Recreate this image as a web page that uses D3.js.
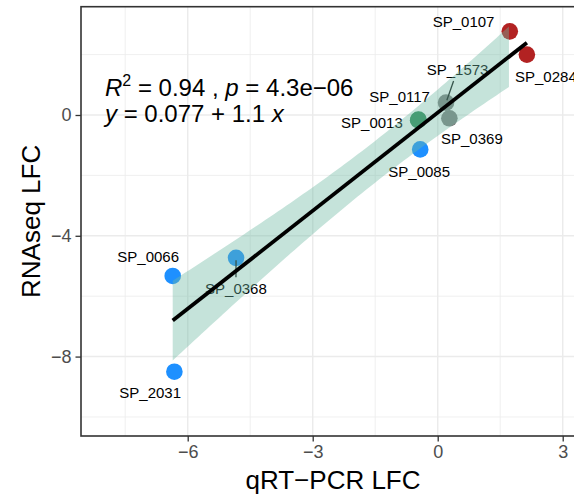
<!DOCTYPE html>
<html>
<head>
<meta charset="utf-8">
<script src="https://cdn.jsdelivr.net/npm/d3@7"></script>
<style>
  body { margin: 0; background: #fff; }
  svg { display: block; }
  text { font-family: "Liberation Sans", Arial, Helvetica, sans-serif; }
</style>
</head>
<body>
<svg id="chart" width="574" height="497"></svg>
<script>
// ---- data -------------------------------------------------------------
const genes     = ["SP_0107", "SP_0284", "SP_1573", "SP_0117", "SP_0013", "SP_0369", "SP_0085", "SP_0066", "SP_0368", "SP_2031"];
const qpcrLFC   = [1.73, 2.14, 0.20, -0.46, -0.47, 0.28, -0.42, -6.36, -4.84, -6.32];
const rnaseqLFC = [2.77, 2.00, 0.41, -0.15, -0.17, -0.11, -1.14, -5.33, -4.73, -8.50];
const geneGroup = ["up", "up", "ns", "mid", "mid", "ns", "down", "down", "down", "down"];
const groupColor = { up: "#B22222", ns: "#7f7f7f", mid: "#2E8B57", down: "#1E90FF" };

// label anchors (text start, baseline) in data units, and which labels get a leader
const labelX = [-0.12, 1.855, -0.264, -1.641, -2.32, 0.079, -1.186, -7.689, -5.584, -7.641];
const labelY = [2.92, 1.10, 1.325, 0.44, -0.44, -0.96, -2.043, -4.877, -5.937, -9.361];
const leaderGenes = ["SP_1573", "SP_0368"];

// axes
const xTicks = [-6, -3, 0, 3];
const yTicks = [-8, -4, 0];
const xMinor = [-7.5, -4.5, -1.5, 1.5];
const yMinor = [-10, -6, -2, 2];
const xLimits = [-8.561, 3.535];
const yLimits = [-10.63, 3.586];
const xTitle = "qRT\u2212PCR LFC";
const yTitle = "RNAseq LFC";

// confidence band extent along x and its t quantile (97.5%, 8 d.f.)
const bandExtent = [-6.36, 1.71];
const tCrit = 2.306;

// ---- layout ------------------------------------------------------------
const panel = { left: 81, top: 6.7, right: 585, bottom: 436 };
const svg = d3.select("#chart");
const x = d3.scaleLinear().domain(xLimits).range([panel.left, panel.right]);
const y = d3.scaleLinear().domain(yLimits).range([panel.bottom, panel.top]);

svg.append("defs").append("clipPath").attr("id", "panel-clip")
  .append("rect")
  .attr("x", panel.left).attr("y", panel.top)
  .attr("width", panel.right - panel.left).attr("height", panel.bottom - panel.top);

// grid
const grid = svg.append("g").attr("clip-path", "url(#panel-clip)");
grid.selectAll(".vminor").data(xMinor).join("line")
  .attr("x1", d => x(d)).attr("x2", d => x(d))
  .attr("y1", panel.top).attr("y2", panel.bottom)
  .attr("stroke", "#ebebeb").attr("stroke-width", 0.8);
grid.selectAll(".hminor").data(yMinor).join("line")
  .attr("y1", d => y(d)).attr("y2", d => y(d))
  .attr("x1", panel.left).attr("x2", panel.right)
  .attr("stroke", "#ebebeb").attr("stroke-width", 0.8);
grid.selectAll(".vmajor").data(xTicks).join("line")
  .attr("x1", d => x(d)).attr("x2", d => x(d))
  .attr("y1", panel.top).attr("y2", panel.bottom)
  .attr("stroke", "#ebebeb").attr("stroke-width", 1.5);
grid.selectAll(".hmajor").data(yTicks).join("line")
  .attr("y1", d => y(d)).attr("y2", d => y(d))
  .attr("x1", panel.left).attr("x2", panel.right)
  .attr("stroke", "#ebebeb").attr("stroke-width", 1.5);

const rows = genes.map((g, i) => ({
  gene: g, qx: qpcrLFC[i], ry: rnaseqLFC[i], group: geneGroup[i],
  lx: labelX[i], ly: labelY[i]
}));

// points
const plot = svg.append("g").attr("clip-path", "url(#panel-clip)");
plot.selectAll("circle").data(rows).join("circle")
  .attr("cx", d => x(d.qx)).attr("cy", d => y(d.ry))
  .attr("r", 8.3)
  .attr("fill", d => groupColor[d.group]);

// gene labels and leader segments
const labels = plot.selectAll("text.gene").data(rows).join("text")
  .attr("class", "gene")
  .attr("x", d => x(d.lx)).attr("y", d => y(d.ly))
  .attr("font-size", 15).attr("fill", "#000")
  .text(d => d.gene);

labels.each(function (d) {
  if (!leaderGenes.includes(d.gene)) return;
  const b = this.getBBox();
  const pad = 3;
  const cx = b.x + b.width / 2, cy = b.y + b.height / 2;
  const px = x(d.qx), py = y(d.ry);
  const dx = px - cx, dy = py - cy;
  // leave the padded label box along the line towards the point
  const tx = dx === 0 ? Infinity : (b.width / 2 + pad) / Math.abs(dx);
  const ty = dy === 0 ? Infinity : (b.height / 2 + pad) / Math.abs(dy);
  const t0 = Math.min(tx, ty);
  const len = Math.hypot(dx, dy);
  const t1 = 1 - 2.5 / len;
  plot.append("line")
    .attr("x1", cx + dx * t0).attr("y1", cy + dy * t0)
    .attr("x2", cx + dx * t1).attr("y2", cy + dy * t1)
    .attr("stroke", "#111").attr("stroke-width", 1.3);
});

// linear fit
const n = qpcrLFC.length;
const mx = d3.mean(qpcrLFC), my = d3.mean(rnaseqLFC);
const sxx = d3.sum(qpcrLFC, v => (v - mx) ** 2);
const sxy = d3.sum(qpcrLFC, (v, i) => (v - mx) * (rnaseqLFC[i] - my));
const slope = sxy / sxx;
const intercept = my - slope * mx;
const rss = d3.sum(qpcrLFC, (v, i) => (rnaseqLFC[i] - (intercept + slope * v)) ** 2);
const sigma = Math.sqrt(rss / (n - 2));
const fit = v => intercept + slope * v;
const halfWidth = v => tCrit * sigma * Math.sqrt(1 / n + (v - mx) ** 2 / sxx);

const bandPts = d3.range(0, 81).map(k => bandExtent[0] + (bandExtent[1] - bandExtent[0]) * k / 80);
plot.append("path")
  .datum(bandPts)
  .attr("d", d3.area()
    .x(v => x(v))
    .y0(v => y(fit(v) - halfWidth(v)))
    .y1(v => y(fit(v) + halfWidth(v))))
  .attr("fill", "#6eb9a2").attr("fill-opacity", 0.4);

const xr = d3.extent(qpcrLFC);
plot.append("path")
  .datum(xr)
  .attr("d", d3.line().x(v => x(v)).y(v => y(fit(v))))
  .attr("stroke", "#000").attr("stroke-width", 3.8).attr("fill", "none");

// panel border
svg.append("rect")
  .attr("x", panel.left).attr("y", panel.top)
  .attr("width", panel.right - panel.left).attr("height", panel.bottom - panel.top)
  .attr("fill", "none").attr("stroke", "#333").attr("stroke-width", 1.6);

// axes
const xAxis = svg.append("g").attr("transform", `translate(0,${panel.bottom})`)
  .call(d3.axisBottom(x).tickValues(xTicks).tickSize(5.5).tickPadding(4));
const yAxis = svg.append("g").attr("transform", `translate(${panel.left},0)`)
  .call(d3.axisLeft(y).tickValues(yTicks).tickSize(5.5).tickPadding(4));
[xAxis, yAxis].forEach(a => {
  a.select(".domain").remove();
  a.selectAll(".tick line").attr("stroke", "#333").attr("stroke-width", 1.3);
  a.selectAll(".tick text").attr("fill", "#4d4d4d").attr("font-size", 18)
    .attr("font-family", "\"Liberation Sans\", Arial, Helvetica, sans-serif");
});

// axis titles
svg.append("text")
  .attr("x", (panel.left + panel.right) / 2).attr("y", 489)
  .attr("text-anchor", "middle").attr("font-size", 26).attr("fill", "#000")
  .text(xTitle);
svg.append("text")
  .attr("transform", `translate(40,${(panel.top + panel.bottom) / 2}) rotate(-90)`)
  .attr("text-anchor", "middle").attr("font-size", 26).attr("fill", "#000")
  .text(yTitle);

// regression statistics
const sst = d3.sum(rnaseqLFC, v => (v - my) ** 2);
const r2 = 1 - rss / sst;
const eq = svg.append("g").attr("font-size", 24).attr("fill", "#000").style("white-space", "pre");
const l1 = eq.append("text").attr("x", 105).attr("y", 96);
l1.append("tspan").attr("font-style", "italic").text("R");
l1.append("tspan").attr("font-size", 16).attr("dy", -10).text("2");
l1.append("tspan").attr("dy", 10).text(` = ${r2.toFixed(2)} , `);
l1.append("tspan").attr("font-style", "italic").text("p");
l1.append("tspan").text(" = 4.3e\u221206");
const l2 = eq.append("text").attr("x", 105).attr("y", 121.7);
l2.append("tspan").attr("font-style", "italic").text("y");
l2.append("tspan").text(" = 0.077 + 1.1 ");
l2.append("tspan").attr("font-style", "italic").text("x");
</script>
</body>
</html>
